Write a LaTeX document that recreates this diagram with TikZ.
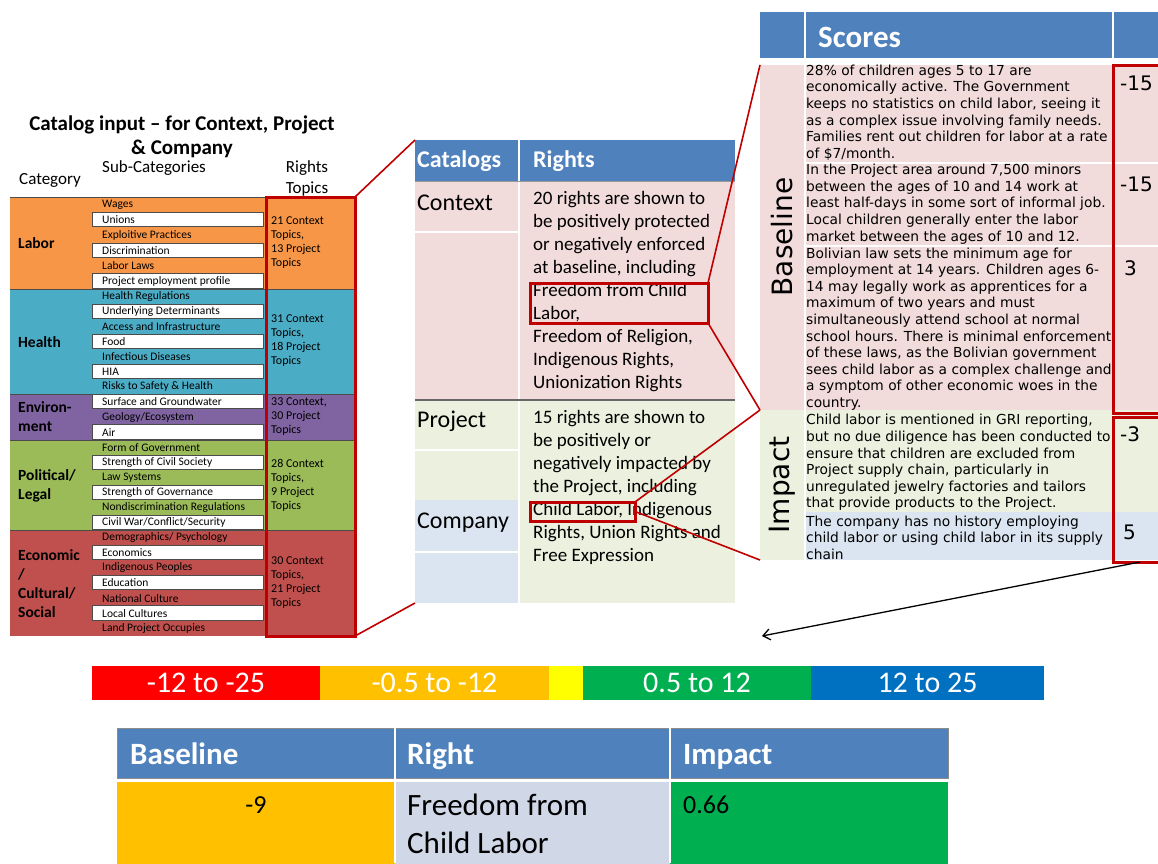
\documentclass[tikz,border=0pt]{standalone}
\usepackage{fontspec}
\setmainfont{Carlito}
\newfontfamily\verd{DejaVu Sans}
\usetikzlibrary{calc,positioning,arrows.meta}

\definecolor{hdrblue}{HTML}{4F81BD}
\definecolor{laborc}{HTML}{F79646}
\definecolor{healthc}{HTML}{4BACC6}
\definecolor{envc}{HTML}{8064A2}
\definecolor{polc}{HTML}{9BBB59}
\definecolor{econc}{HTML}{C0504D}
\definecolor{pinkc}{HTML}{F2DCDB}
\definecolor{greenc}{HTML}{EBF1DE}
\definecolor{bluec}{HTML}{DBE5F1}
\definecolor{rightc}{HTML}{D0D8E8}
\definecolor{darkred}{HTML}{C00000}
\definecolor{barred}{HTML}{FF0000}
\definecolor{barorange}{HTML}{FFC000}
\definecolor{baryellow}{HTML}{FFFF00}
\definecolor{bargreen}{HTML}{00B050}
\definecolor{barblue}{HTML}{0070C0}

% sub-category rows: name, top, row height, parity, list
\newcommand{\subrows}[5]{%
	\foreach \t [count=\i] in {#5} {
		\pgfmathsetmacro\yy{#2+(\i-1)*#3}
		\pgfmathtruncatemacro\ww{mod(\i+#4,2)}
		\ifnum\ww=0
			\node[subw=#3] (#1-\i) at (92,\yy) {};
		\fi
		\node[sub] (#1-t\i) at (102,\yy+#3/2) {\t};
	}}

\begin{document}
\begin{tikzpicture}[
		x=1pt, y=-1pt,
		>={Straight Barb[length=7pt, width=11pt]},
		box/.style={inner sep=0, outer sep=0, anchor=north west},
		hdr/.style={box, fill=hdrblue},
		txt/.style={inner sep=0, anchor=west, align=left},
		sub/.style={txt, font=\fontsize{11.5}{12}\selectfont},
		subw/.style={box, fill=white, draw=black!70, line width=0.6pt, minimum width=171, minimum height=#1-1},
		redbox/.style={box, draw=darkred, line width=3pt},
		link/.style={darkred, line width=1.6pt},
		cat/.style={txt, font=\fontsize{15.5}{19}\selectfont\bfseries},
		topic/.style={txt, font=\fontsize{12}{14}\selectfont},
		colhead/.style={txt, font=\fontsize{17}{21}\selectfont},
		rights/.style={txt, font=\fontsize{19}{22.9}\selectfont},
		catname/.style={txt, font=\fontsize{24}{26}\selectfont},
		score/.style={txt, font=\verd\fontsize{13.8}{16.6}\selectfont},
		num/.style={txt, font=\verd\fontsize{20}{22}\selectfont},
		bar/.style={box, minimum height=34, text=white, font=\fontsize{30}{32}\selectfont},
		reshd/.style={txt, anchor=base west, text=white, font=\fontsize{31}{34}\selectfont\bfseries},
		]
		\clip (0,0) rectangle (1158,863);
		
		% catalog input panel
		\node[font=\fontsize{21}{24}\selectfont\bfseries, align=center] (title) at (182,137) {Catalog input -- for Context, Project\\\& Company};
		\node[colhead] (cat-h) at (19,180) {Category};
		\node[colhead] (sub-h) at (102,168) {Sub-Categories};
		\node[colhead, anchor=center, align=center] (top-h) at (307,178) {Rights\\Topics};
		
		\node[box, fill=laborc, minimum width=345, minimum height=92] (labor) at (10,197) {};
		\node[box, fill=healthc, minimum width=345, minimum height=105] (health) at (10,289) {};
		\node[box, fill=envc, minimum width=345, minimum height=46] (env) at (10,394) {};
		\node[box, fill=polc, minimum width=345, minimum height=90] (pol) at (10,440) {};
		\node[box, fill=econc, minimum width=345, minimum height=106] (econ) at (10,530) {};
		\draw[black!70, line width=1pt] (labor.north west) -- (labor.north east)
			(health.north west) -- (health.north east) (env.north west) -- (env.north east)
			(pol.north west) -- (pol.north east) (econ.north west) -- (econ.north east);
		
		\subrows{labor}{197}{15.33}{0}{Wages, Unions, Exploitive Practices, Discrimination, Labor Laws, Project employment profile}
		\subrows{health}{289}{15}{0}{Health Regulations, Underlying Determinants, Access and Infrastructure, Food, Infectious Diseases, HIA, Risks to Safety \& Health}
		\subrows{env}{394}{15.33}{1}{Surface and Groundwater, Geology/Ecosystem, Air}
		\subrows{pol}{440}{15}{0}{Form of Government, Strength of Civil Society, Law Systems, Strength of Governance, Nondiscrimination Regulations, Civil War/Conflict/Security}
		\subrows{econ}{530}{15.14}{0}{Demographics/ Psychology, Economics, Indigenous Peoples, Education, National Culture, Local Cultures, Land Project Occupies}
		
		\node[cat] (labor-l) at (18,243) {Labor};
		\node[cat] (health-l) at (18,342) {Health};
		\node[cat] (env-l) at (18,417) {Environ-\\ment};
		\node[cat] (pol-l) at (18,486) {Political/\\Legal};
		\node[cat] (econ-l) at (18,584) {Economic\\/\\Cultural/\\Social};
		
		\node[topic] (labor-r) at (271,243) {21 Context\\Topics,\\13 Project\\Topics};
		\node[topic] (health-r) at (271,341) {31 Context\\Topics,\\18 Project\\Topics};
		\node[topic] (env-r) at (271,417) {33 Context,\\30 Project\\Topics};
		\node[topic] (pol-r) at (271,485) {28 Context\\Topics,\\9 Project\\Topics};
		\node[topic] (econ-r) at (271,583) {30 Context\\Topics,\\21 Project\\Topics};
		\node[redbox, minimum width=89, minimum height=439] (topics) at (266,197) {};
		
		% catalogs table
		\node[hdr, minimum width=320, minimum height=41] (cathead) at (415,140) {};
		\node[box, fill=pinkc, minimum width=320, minimum height=219] (context) at (415,181) {};
		\node[box, fill=greenc, minimum width=320, minimum height=203] (project) at (415,400) {};
		\node[box, fill=bluec, minimum width=104, minimum height=103] (company) at (415,500) {};
		\draw[white, line width=1.5pt] (519,140) -- (519,603)
			(415,232) -- (519,232) (415,450) -- (519,450) (415,552) -- (519,552);
		\draw[black!40, line width=1pt] (context.north west) -- (context.north east);
		\draw[black!60, line width=2pt] (project.north west) -- (project.north east);
		\node[txt, text=white, font=\fontsize{24}{26}\selectfont\bfseries] (cat-t) at (417,161) {Catalogs};
		\node[txt, text=white, font=\fontsize{24}{26}\selectfont\bfseries] (rig-t) at (533,161) {Rights};
		\node[catname] (context-t) at (417,203) {Context};
		\node[catname] (project-t) at (417,421) {Project};
		\node[catname] (company-t) at (417,523) {Company};
		\node[rights] (context-r) at (533,291.5) {20 rights are shown to\\be positively protected\\or negatively enforced\\at baseline, including\\Freedom from Child\\Labor,\\Freedom of Religion,\\Indigenous Rights,\\Unionization Rights};
		\node[rights] (project-r) at (533,487.5) {15 rights are shown to\\be positively or\\negatively impacted by\\the Project, including\\Child Labor, Indigenous\\Rights, Union Rights and\\Free Expression};
		\node[redbox, minimum width=178, minimum height=40] (fcl) at (530,283) {};
		\node[redbox, minimum width=105, minimum height=19] (cl) at (530,502) {};
		
		% scores table
		\node[hdr, minimum width=400, minimum height=46] (scorehead) at (760,12) {};
		\node[box, fill=pinkc, minimum width=45, minimum height=345] (base) at (760,65) {};
		\node[box, fill=greenc, minimum width=45, minimum height=150] (imp) at (760,410) {};
		\node[box, fill=pinkc, minimum width=355, minimum height=345] (base-c) at (805,65) {};
		\node[box, fill=greenc, minimum width=355, minimum height=102] (imp-c) at (805,410) {};
		\node[box, fill=bluec, minimum width=355, minimum height=48] (comp-c) at (805,512) {};
		\draw[white, line width=1.5pt] (805,12) -- (805,560) (1113,12) -- (1113,560)
			(805,163) -- (1160,163) (805,246) -- (1160,246);
		\node[txt, text=white, font=\fontsize{31}{34}\selectfont\bfseries] (scores-t) at (818,37) {Scores};
		\node[rotate=90, font=\verd\fontsize{28}{30}\selectfont] (base-l) at (782,237) {Baseline};
		\node[rotate=90, font=\verd\fontsize{28}{30}\selectfont] (imp-l) at (782,485) {Impact};
		
		\node[score] (s1) at (806,112.5) {28\% of children ages 5 to 17 are\\economically active. The Government\\keeps no statistics on child labor, seeing it\\as a complex issue involving family needs.\\Families rent out children for labor at a rate\\of \$7/month.};
		\node[score] (s2) at (806,204) {In the Project area around 7,500 minors\\between the ages of 10 and 14 work at\\least half-days in some sort of informal job.\\Local children generally enter the labor\\market between the ages of 10 and 12.};
		\node[score] (s3) at (806,329) {Bolivian law sets the minimum age for\\employment at 14 years. Children ages 6-\\14 may legally work as apprentices for a\\maximum of two years and must\\simultaneously attend school at normal\\school hours. There is minimal enforcement\\of these laws, as the Bolivian government\\sees child labor as a complex challenge and\\a symptom of other economic woes in the\\country.};
		\node[score] (s4) at (806,462.5) {Child labor is mentioned in GRI reporting,\\but no due diligence has been conducted to\\ensure that children are excluded from\\Project supply chain, particularly in\\unregulated jewelry factories and tailors\\that provide products to the Project.};
		\node[score] (s5) at (806,537.5) {The company has no history employing\\child labor or using child labor in its supply\\chain};
		
		\node[num] (n1) at (1120,83) {-15};
		\node[num] (n2) at (1120,184) {-15};
		\node[num] (n3) at (1124,268) {3};
		\node[num] (n4) at (1120,434) {-3};
		\node[num] (n5) at (1123,532) {5};
		\node[redbox, minimum width=50, minimum height=348] (basebox) at (1113,65) {};
		\node[redbox, minimum width=50, minimum height=145] (impbox) at (1113,417) {};
		
		% colour scale
		\node[bar, fill=barred, minimum width=228] (b1) at (92,666) {-12 to -25};
		\node[bar, fill=barorange, minimum width=229, right=0 of b1] (b2) {-0.5 to -12};
		\node[bar, fill=baryellow, minimum width=34, right=0 of b2] (b3) {};
		\node[bar, fill=bargreen, minimum width=228, right=0 of b3] (b4) {0.5 to 12};
		\node[bar, fill=barblue, minimum width=233, right=0 of b4] (b5) {12 to 25};
		
		% result table
		\node[hdr, draw=black!45, line width=0.8pt, minimum width=831, minimum height=50] (reshead) at (117,728) {};
		\node[box, fill=barorange, minimum width=278, minimum height=85] (bval) at (117,782) {};
		\node[box, fill=rightc, minimum width=275, minimum height=85] (rval) at (395,782) {};
		\node[box, fill=bargreen, minimum width=278, minimum height=85] (ival) at (670,782) {};
		\draw[white, line width=2pt] (395,728) -- (395,863) (670,728) -- (670,863);
		\node[reshd] (base-h) at (130,764) {Baseline};
		\node[reshd] (right-h) at (407,764) {Right};
		\node[reshd] (imp-h) at (683,764) {Impact};
		\node[font=\fontsize{26}{28}\selectfont] (bval-t) at (256,805) {-9};
		\node[txt, font=\fontsize{31}{38}\selectfont] (rval-t) at (407,824) {Freedom from\\Child Labor};
		\node[txt, font=\fontsize{26}{28}\selectfont] (ival-t) at (683,805) {0.66};
		
		% connectors
		\draw[link] (topics.north east) -- (cathead.north west);
		\draw[link] (topics.south east) -- (company.south west);
		\draw[link] (fcl.north east) -- (base.north west);
		\draw[link] (fcl.south east) -- (base.south west);
		\draw[link] (cl.north east) -- (imp.north west);
		\draw[link] (cl.east) -- (imp.south west);
		\coordinate (tip) at (762,636);
		\draw[->, line width=1.3pt] ($(impbox.south west)!0.54!(impbox.south east)$) -- (tip);
		
	\end{tikzpicture}
\end{document}
